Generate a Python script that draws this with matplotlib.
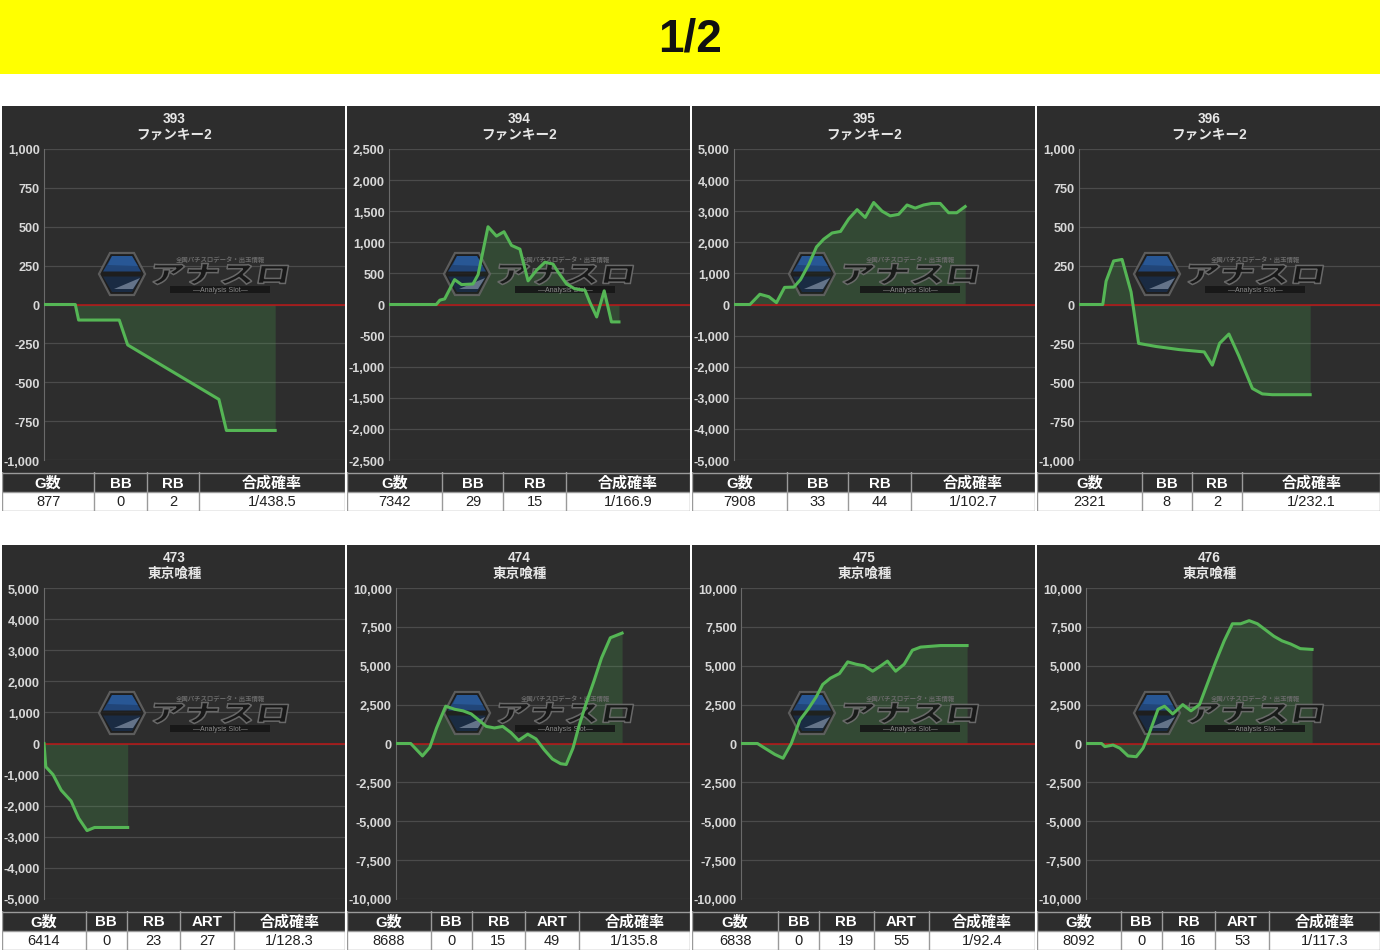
import matplotlib
matplotlib.use("Agg")
import matplotlib.pyplot as plt
from matplotlib.patches import Rectangle, Polygon, PathPatch
from matplotlib.textpath import TextPath
from matplotlib.font_manager import FontProperties
from matplotlib.transforms import Affine2D
from matplotlib.ticker import FixedLocator, FuncFormatter

W, H = 1380, 953
plt.rcParams["font.family"] = ["Liberation Sans", "Noto Sans CJK JP", "DejaVu Sans"]

# ---- data -------------------------------------------------------------
PAGE_TITLE = "1/2"
MACHINE_NO = [393, 394, 395, 396, 473, 474, 475, 476]
MACHINE_NAME = ["ファンキー2"] * 4 + ["東京喰種"] * 4
Y_LIMIT = [1000, 2500, 5000, 1000, 5000, 10000, 10000, 10000]
Y_STEP = [250, 500, 1000, 250, 1000, 2500, 2500, 2500]

X_393 = [0, 10.4, 11.5, 25.0, 27.8, 58.1, 60.6, 76.8]
Y_393 = [0, 0, -100, -100, -260, -610, -810, -810]

X_394 = [0, 15.7, 16.9, 18.5, 21.8, 24.1, 27.9, 29.6, 32.9, 35.7, 38.2, 40.7, 43.5,
         46.2, 49.0, 51.8, 54.5, 56.2, 59.0, 61.8, 65.1, 66.7, 69.0, 71.5, 73.9, 76.4]
Y_394 = [0, 0, 70, 90, 400, 320, 330, 480, 1250, 1100, 1170, 950, 890,
         380, 550, 680, 650, 520, 330, 250, 230, 40, -200, 220, -280, -280]

X_395 = [0, 5.3, 8.6, 11.6, 14.1, 16.8, 19.9, 22.1, 24.9, 27.4, 29.8, 32.6, 35.4, 38.1,
         40.9, 43.6, 46.4, 49.2, 51.9, 54.7, 57.5, 60.2, 63.0, 65.7, 68.5, 71.3, 74.0, 76.8]
Y_395 = [0, 0, 330, 250, 60, 550, 560, 800, 1300, 1850, 2100, 2300, 2350, 2750,
         3050, 2800, 3280, 3000, 2850, 2900, 3200, 3100, 3200, 3250, 3250, 2950, 2950, 3150]

X_396 = [0, 7.9, 9.0, 11.5, 14.3, 17.3, 19.8, 25.6, 33.3, 41.6, 44.3, 46.7, 49.8,
         53.1, 57.6, 60.9, 64.2, 76.8]
Y_396 = [0, 0, 150, 280, 290, 80, -250, -270, -290, -305, -390, -250, -190,
         -330, -540, -575, -580, -580]

X_473 = [0, 0.6, 3.0, 5.7, 9.0, 11.5, 14.3, 16.8, 27.8]
Y_473 = [0, -750, -1000, -1500, -1850, -2400, -2800, -2700, -2700]

X_474 = [0, 5.0, 9.0, 11.5, 13.8, 16.9, 20.0, 22.8, 25.6, 28.2, 30.7, 33.5, 36.3, 39.1,
         41.7, 44.8, 47.6, 50.4, 53.2, 56.0, 57.9, 60.2, 62.2, 64.7, 67.3, 69.9, 72.9, 76.9]
Y_474 = [0, 0, -800, -250, 1000, 2400, 2200, 2100, 1900, 1500, 1100, 1000, 1100, 700,
         200, 600, 300, -400, -1000, -1300, -1350, -300, 1100, 2600, 4000, 5500, 6800, 7100]

X_475 = [0, 5.6, 8.1, 11.5, 14.3, 17.1, 20.0, 22.8, 25.6, 27.8, 30.4, 33.5, 36.3,
         39.1, 41.9, 44.8, 47.6, 49.8, 52.6, 55.5, 58.3, 61.1, 64.5, 67.9, 76.9]
Y_475 = [0, 0, -300, -700, -950, 0, 1500, 2200, 3000, 3800, 4200, 4500, 5250,
         5100, 5000, 4650, 5000, 5300, 4650, 5100, 6000, 6200, 6250, 6300, 6300]

X_476 = [0, 5.3, 6.4, 9.2, 11.5, 14.3, 17.1, 19.4, 21.6, 24.5, 26.7, 29.5, 32.9, 35.7,
         38.6, 41.4, 44.2, 47.0, 49.8, 52.6, 55.5, 58.3, 61.1, 63.9, 66.7, 69.6, 72.9, 76.9]
Y_476 = [0, 0, -200, -100, -300, -800, -850, -300, 700, 2200, 2400, 1900, 2500, 2100,
         2500, 3900, 5300, 6600, 7700, 7700, 7900, 7700, 7300, 6900, 6600, 6400, 6100, 6050]

SERIES_X = [X_393, X_394, X_395, X_396, X_473, X_474, X_475, X_476]
SERIES_Y = [Y_393, Y_394, Y_395, Y_396, Y_473, Y_474, Y_475, Y_476]

HEADERS_TOP = ["G数", "BB", "RB", "合成確率"]
HEADERS_BOTTOM = ["G数", "BB", "RB", "ART", "合成確率"]
G_COUNT = [877, 7342, 7908, 2321, 6414, 8688, 6838, 8092]
BB_COUNT = [0, 29, 33, 8, 0, 0, 0, 0]
RB_COUNT = [2, 15, 44, 2, 23, 15, 19, 16]
ART_COUNT = [None, None, None, None, 27, 49, 55, 53]
RATE = ["1/438.5", "1/166.9", "1/102.7", "1/232.1",
        "1/128.3", "1/135.8", "1/92.4", "1/117.3"]

# ---- style / layout ---------------------------------------------------
PANEL_BG = "#2d2d2d"
GRID = "#4b4b4b"
TICK = "#d8d8d8"
LINE = "#55b655"
FILL = "#4caf50"
ZERO = "#b01818"
BORDER = "#9a9a9a"

COL_W = [
    [278, 159, 158, 440], [288, 184, 188, 375], [288, 184, 188, 375], [316, 151, 153, 415],
    [252, 124, 162, 162, 335], [252, 124, 162, 162, 335],
    [260, 123, 165, 167, 320], [252, 124, 162, 162, 335],
]


def fig_rect(x, y, w, h):
    return [x / W, 1 - (y + h) / H, w / W, h / H]


def to_fig(x, y):
    return (x / W, 1 - y / H)


def draw_logo(fig, ax, cx, cy):
    # watermark: hexagon emblem + "アナスロ" wordmark
    kw = dict(transform=fig.transFigure, zorder=2)

    def poly(pts, **style):
        p = Polygon([to_fig(cx + dx, cy + dy) for dx, dy in pts], closed=True, **kw, **style)
        ax.add_patch(p)

    poly([(-23, 0), (-12, -21), (12, -21), (23, 0), (12, 21), (-12, 21)],
         facecolor="#1c1c1c", edgecolor="#666666", linewidth=1.6, alpha=0.85)
    poly([(-19, -2.5), (-10, -18), (10, -18), (19, -2.5)],
         facecolor="#22508f", edgecolor="none", alpha=0.8)
    poly([(-14, -9), (-10, -18), (10, -18), (16, -8)],
         facecolor="#2f66ad", edgecolor="none", alpha=0.55)
    poly([(-19, 2.5), (19, 2.5), (10, 18), (-10, 18)],
         facecolor="#1a2e4a", edgecolor="none", alpha=0.85)
    poly([(-8, 15), (18, 4), (11, 15)],
         facecolor="#8d9bb0", edgecolor="none", alpha=0.65)

    # wordmark (slanted, heavy)
    tp = TextPath((0, 0), "アナスロ", size=1,
                  prop=FontProperties(family="Noto Sans CJK JP", weight="black"))
    ext = tp.get_extents()
    sx = 134 / ext.width
    sy = 21 / ext.height
    tx, ty = to_fig(cx + 98, cy)
    tr = (Affine2D().translate(-ext.x0 - ext.width / 2, -ext.y0 - ext.height / 2)
          .scale(sx, sy).skew_deg(10, 0)
          .translate(tx * W, ty * H).scale(1 / W, 1 / H) + fig.transFigure)
    ax.add_patch(PathPatch(tp, transform=tr, facecolor="#161616", edgecolor="#707070",
                           linewidth=1.1, alpha=0.9, zorder=2))

    x, y = to_fig(cx + 98, cy - 15)
    ax.text(x, y, "全国パチスロデータ・出玉情報", transform=fig.transFigure, fontsize=4.6,
            color="#6a6a6a", ha="center", va="center", weight="bold", zorder=2,
            family=["Noto Sans CJK JP", "DejaVu Sans"])
    ax.add_patch(Rectangle(to_fig(cx + 48, cy + 19), 100 / W, 7 / H,
                           facecolor="#161616", edgecolor="none", alpha=0.9, **kw))
    x, y = to_fig(cx + 98, cy + 15.5)
    ax.text(x, y, "—Analysis Slot—", transform=fig.transFigure, fontsize=5,
            color="#8a8a8a", ha="center", va="center", zorder=2)


def draw_table(fig, x0, y0, width, headers, values, widths):
    ax = fig.add_axes(fig_rect(x0, y0, width, 39))
    ax.set_xlim(0, width)
    ax.set_ylim(39, 0)
    ax.axis("off")
    ax.add_patch(Rectangle((0, 0), width, 20, facecolor=PANEL_BG, edgecolor="none"))
    ax.add_patch(Rectangle((0, 20), width, 19, facecolor="white", edgecolor="none"))
    total = sum(widths)
    edges = [0]
    for w in widths:
        edges.append(edges[-1] + w / total * width)
    for e in edges:
        ax.plot([e, e], [0, 39], color=BORDER, linewidth=1.0)
    for yy in (0.5, 20, 38.5):
        ax.plot([0, width], [yy, yy], color=BORDER, linewidth=1.0)
    for i, (h, v) in enumerate(zip(headers, values)):
        xc = (edges[i] + edges[i + 1]) / 2
        ax.text(xc, 10.5, h, ha="center", va="center", fontsize=10.8,
                color="white", weight="bold")
        ax.text(xc, 29.5, v, ha="center", va="center", fontsize=10.5,
                color="#222222")


def main():
    fig = plt.figure(figsize=(W / 100, H / 100), dpi=100)
    fig.patch.set_facecolor("white")

    # yellow banner
    fig.add_artist(Rectangle((0, 1 - 75 / H), 1, 75 / H, transform=fig.transFigure,
                             facecolor="#ffff00", edgecolor="none"))
    fig.text(0.5, 1 - 39 / H, PAGE_TITLE, ha="center", va="center",
             fontsize=33, weight="bold", color="#111111")

    for i in range(8):
        row, col = divmod(i, 4)
        px = 2 + col * 345
        pw = 343
        ptop = 107 if row == 0 else 546
        # dark panel background
        fig.add_artist(Rectangle(to_fig(px, ptop + 366), pw / W, 366 / H,
                                 transform=fig.transFigure, facecolor=PANEL_BG,
                                 edgecolor="none", zorder=-5))
        fig.text(*to_fig(px + pw / 2 + 1, ptop + 12), str(MACHINE_NO[i]), ha="center",
                 va="center", fontsize=9.8, color="#e6e6e6", weight="bold")
        fig.text(*to_fig(px + pw / 2 + 1, ptop + 28), MACHINE_NAME[i], ha="center",
                 va="center", fontsize=9.8, color="#e6e6e6", weight="bold")

        lim = Y_LIMIT[i]
        left = 49 if lim >= 10000 else 42
        ax_top = ptop + 43
        ax = fig.add_axes(fig_rect(px + left, ax_top, pw - left, 311))
        ax.set_facecolor("none")
        ax.set_xlim(0, 100)
        ax.set_ylim(-lim, lim)
        ticks = list(range(-lim, lim + 1, Y_STEP[i]))
        ax.yaxis.set_major_locator(FixedLocator(ticks))
        ax.yaxis.set_major_formatter(FuncFormatter(lambda v, _p: f"{int(v):,}"))
        ax.set_xticks([])
        ax.tick_params(axis="y", length=0, pad=3, labelsize=9.2, labelcolor=TICK)
        for lab in ax.get_yticklabels():
            lab.set_fontweight("bold")
        for side in ("top", "right", "bottom"):
            ax.spines[side].set_visible(False)
        ax.spines["left"].set_color("#6a6a6a")
        ax.grid(True, axis="y", color=GRID, linewidth=0.9)
        ax.set_axisbelow(True)

        xs, ys = SERIES_X[i], SERIES_Y[i]
        ax.fill_between(xs, ys, 0, color=FILL, alpha=0.22, linewidth=0, zorder=1)
        ax.axhline(0, color=ZERO, linewidth=1.2, zorder=2.5)
        ax.plot(xs, ys, color=LINE, linewidth=2.2, zorder=3, solid_joinstyle="round")

        draw_logo(fig, ax, px + 120, ptop + 168)

        if row == 0:
            headers = HEADERS_TOP
            vals = [str(G_COUNT[i]), str(BB_COUNT[i]), str(RB_COUNT[i]), RATE[i]]
        else:
            headers = HEADERS_BOTTOM
            vals = [str(G_COUNT[i]), str(BB_COUNT[i]), str(RB_COUNT[i]),
                    str(ART_COUNT[i]), RATE[i]]
        draw_table(fig, px, ptop + 366, pw, headers, vals, COL_W[i])

    fig.savefig("out.png", dpi=100, facecolor="white")
    plt.close(fig)


if __name__ == "__main__":
    main()
